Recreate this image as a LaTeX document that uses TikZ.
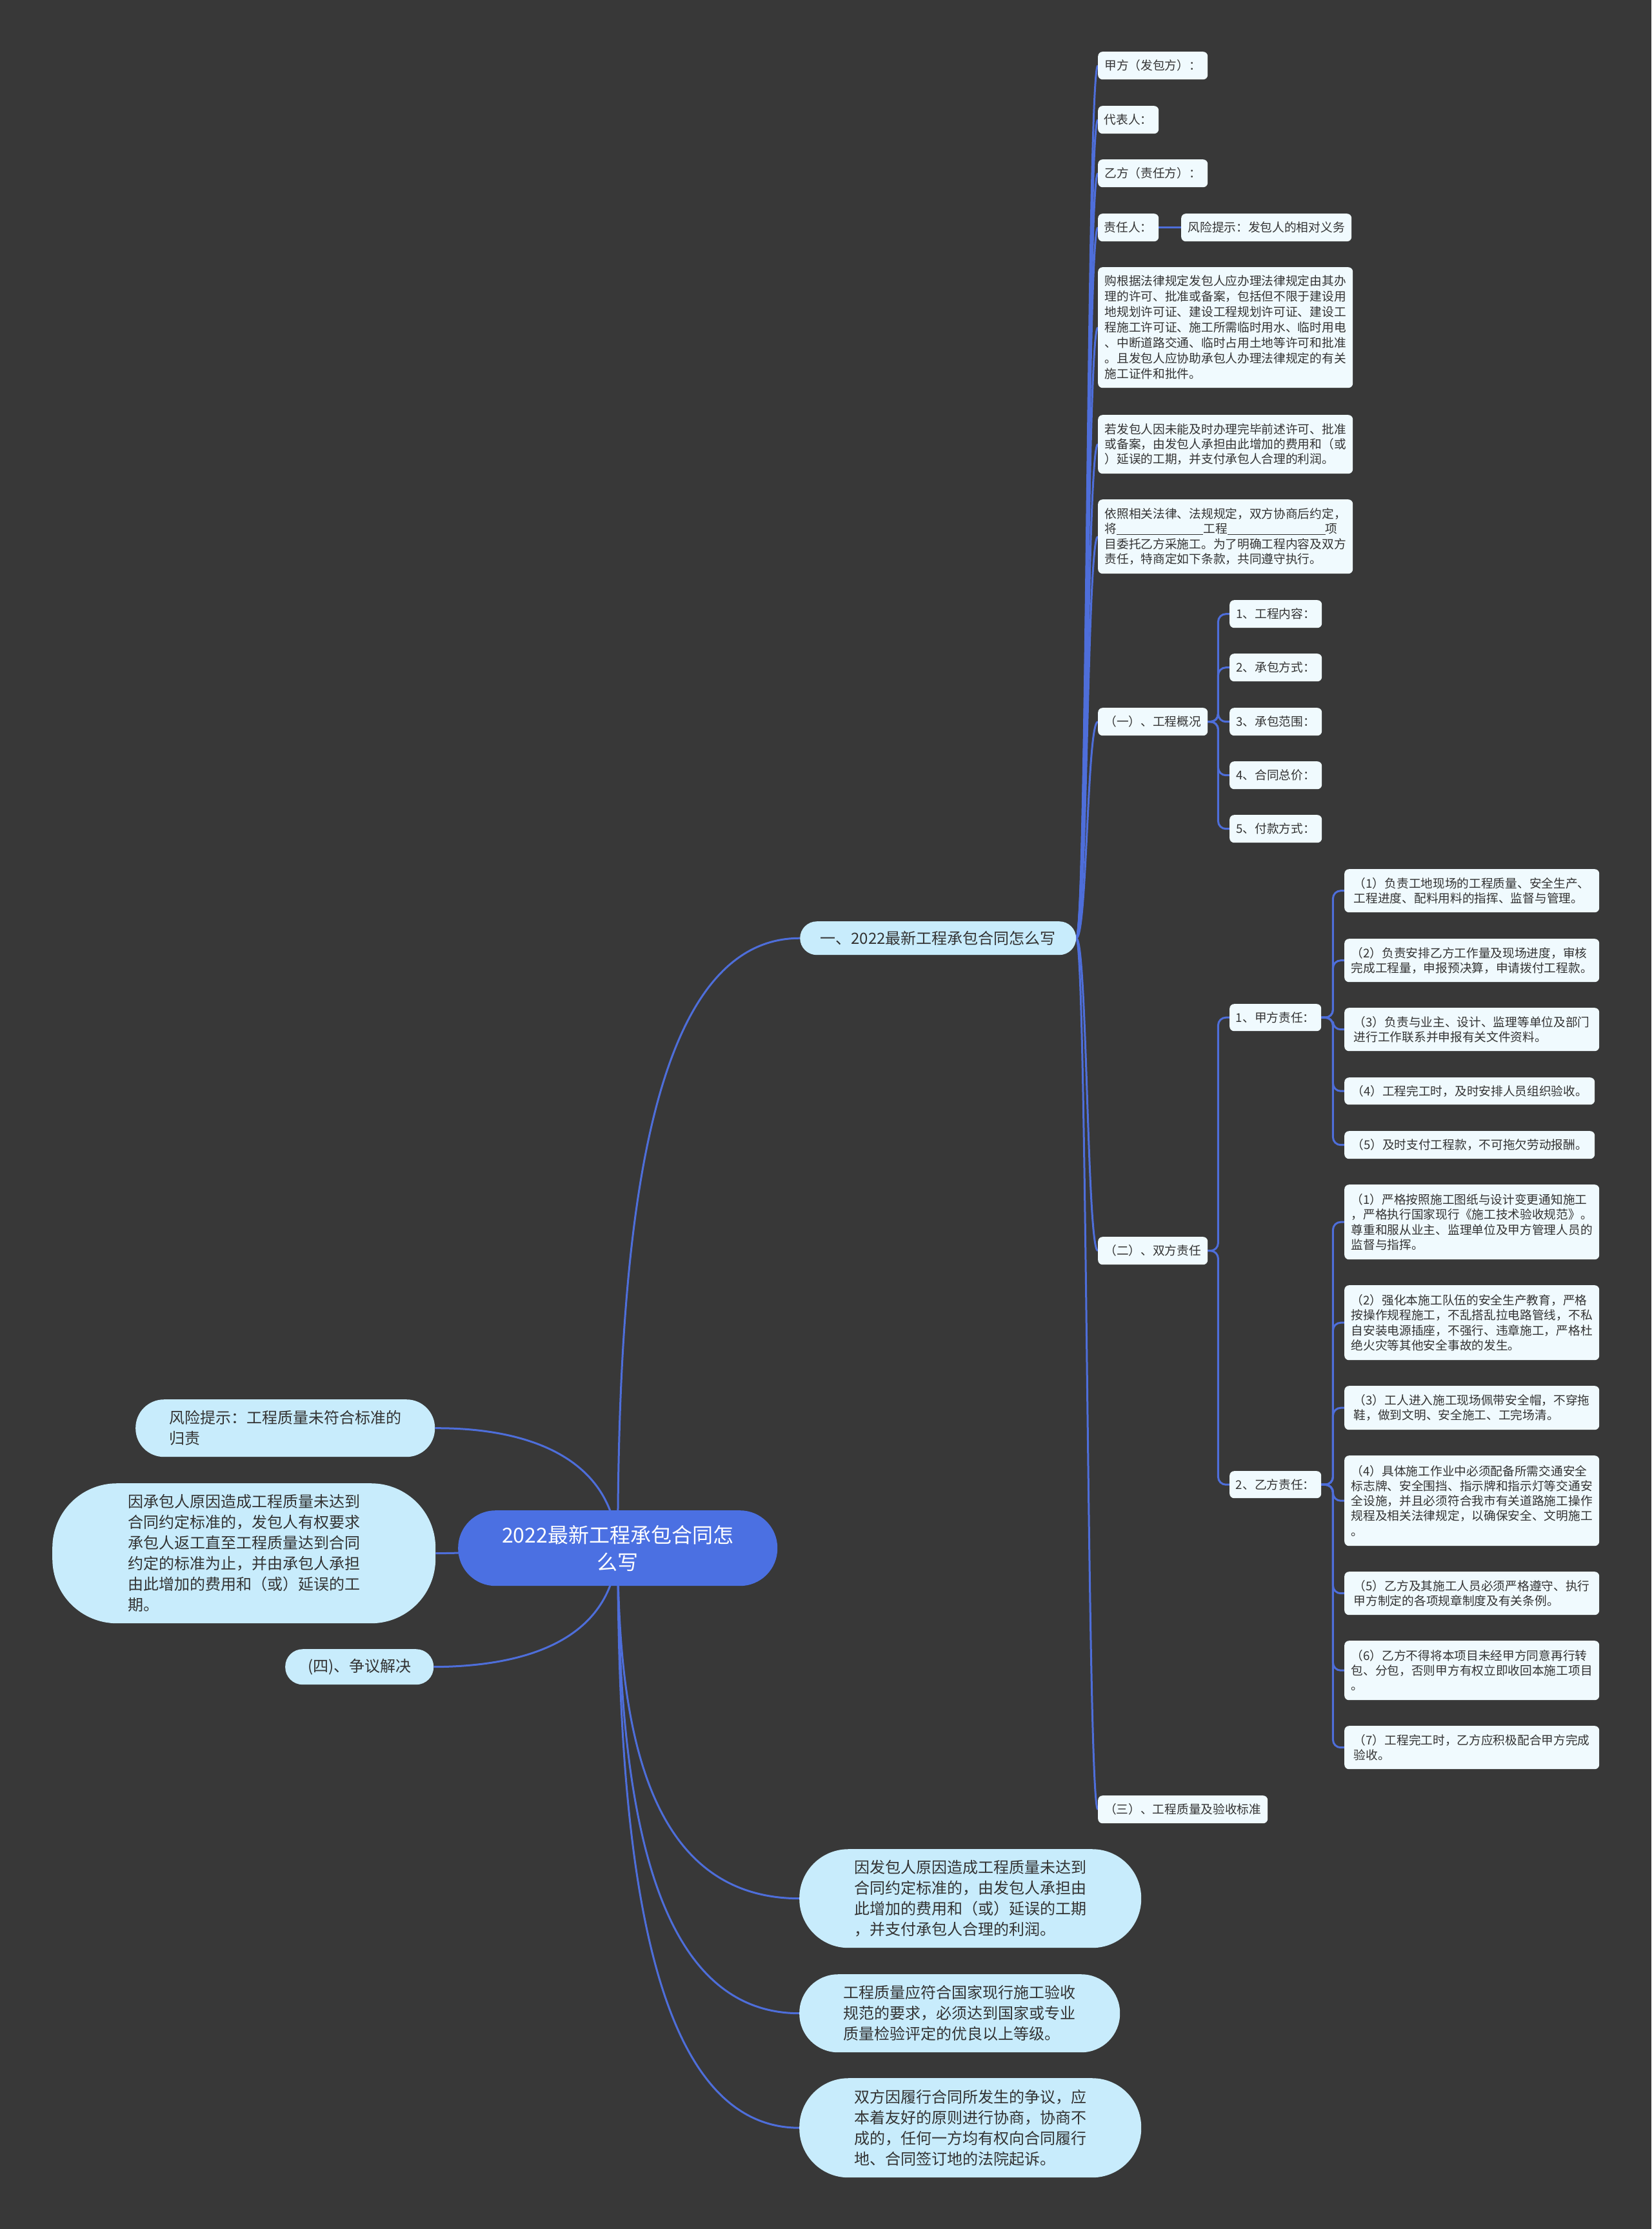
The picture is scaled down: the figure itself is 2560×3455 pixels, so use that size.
\documentclass[tikz,border=0pt]{standalone}
\usepackage{fontspec}
\setmainfont{Noto Sans CJK SC}
\definecolor{bgc}{HTML}{383838}
\definecolor{lnc}{HTML}{4E6EDA}
\definecolor{leafc}{HTML}{F0FAFE}
\definecolor{pillc}{HTML}{C8ECFC}
\definecolor{rootc}{HTML}{4B70E2}
\definecolor{txc}{HTML}{333333}
\pgfdeclarelayer{bglayer}
\pgfdeclarelayer{edgelayer}
\pgfsetlayers{bglayer,edgelayer,main}
\tikzset{
  conn/.style={draw=lnc, line width=3pt},
  elbow/.style={draw=lnc, line width=3pt, rounded corners=12pt},
  leaf/.style={rectangle, rounded corners=7pt, fill=leafc, text=txc, inner sep=0pt,
    align=left, anchor=north west, font=\fontsize{18.7}{23.3}\selectfont},
  pill/.style={rectangle, fill=pillc, text=txc, inner sep=0pt,
    align=left, anchor=north west, font=\fontsize{24}{32}\selectfont},
  rootbox/.style={rectangle, fill=rootc, text=white, inner sep=0pt, rounded corners=58pt,
    align=center, anchor=north west, font=\fontsize{32}{42}\selectfont}
}
\begin{document}
\begin{tikzpicture}[x=1pt,y=-1pt]
\begin{pgfonlayer}{bglayer}
\fill[bgc] (0,0) rectangle (2560,3455);
\end{pgfonlayer}
\useasboundingbox (0,0) rectangle (2560,3455);

% root
\node[rootbox, minimum width=495pt, minimum height=117pt] (root) at (710,2341) {2022最新工程承包合同怎\\么写};

% left pills
\node[pill, rounded corners=44pt, minimum width=464pt, minimum height=89pt] (l1) at (210,2169) {风险提示：工程质量未符合标准的\\归责};
\node[pill, rounded corners=100pt, minimum width=594pt, minimum height=217pt] (l2) at (81,2299) {因承包人原因造成工程质量未达到\\合同约定标准的，发包人有权要求\\承包人返工直至工程质量达到合同\\约定的标准为止，并由承包人承担\\由此增加的费用和（或）延误的工\\期。};
\node[pill, rounded corners=27pt, minimum width=230pt, minimum height=55pt] (l3) at (442,2556) {(四)、争议解决};

% bottom pills
\node[pill, rounded corners=76pt, minimum width=530pt, minimum height=153pt] (b1) at (1239,2866) {因发包人原因造成工程质量未达到\\合同约定标准的，由发包人承担由\\此增加的费用和（或）延误的工期\\，并支付承包人合理的利润。};
\node[pill, rounded corners=60pt, minimum width=497pt, minimum height=121pt] (b2) at (1239,3060) {工程质量应符合国家现行施工验收\\规范的要求，必须达到国家或专业\\质量检验评定的优良以上等级。};
\node[pill, rounded corners=76pt, minimum width=530pt, minimum height=154pt] (b3) at (1239,3221) {双方因履行合同所发生的争议，应\\本着友好的原则进行协商，协商不\\成的，任何一方均有权向合同履行\\地、合同签订地的法院起诉。};

% first branch
\node[pill, rounded corners=26pt, minimum width=428pt, minimum height=52pt] (n1) at (1240,1428) {一、2022最新工程承包合同怎么写};

% right column
\node[leaf, minimum width=170pt, minimum height=43pt] (a1) at (1702,80) {甲方（发包方）：};
\node[leaf, minimum width=94pt, minimum height=43pt] (a2) at (1702,164) {代表人：};
\node[leaf, minimum width=170pt, minimum height=43pt] (a3) at (1702,247) {乙方（责任方）：};
\node[leaf, minimum width=94pt, minimum height=43pt] (a4) at (1702,331) {责任人：};
\node[leaf, minimum width=264pt, minimum height=43pt] (a4r) at (1831,331) {风险提示：发包人的相对义务};
\node[leaf, minimum width=395pt, minimum height=187pt, font=\fontsize{18.7}{24}\selectfont] (a5) at (1702,414) {购根据法律规定发包人应办理法律规定由其办\\理的许可、批准或备案，包括但不限于建设用\\地规划许可证、建设工程规划许可证、建设工\\程施工许可证、施工所需临时用水、临时用电\\、中断道路交通、临时占用土地等许可和批准\\。且发包人应协助承包人办理法律规定的有关\\施工证件和批件。};
\node[leaf, minimum width=395pt, minimum height=91pt] (a6) at (1702,643) {若发包人因未能及时办理完毕前述许可、批准\\或备案，由发包人承担由此增加的费用和（或\\）延误的工期，并支付承包人合理的利润。};
\node[leaf, minimum width=395pt, minimum height=115pt] (a7) at (1702,774) {依照相关法律、法规规定，双方协商后约定，\\将\rule[-2pt]{134pt}{1pt}工程\rule[-2pt]{152pt}{1pt}项\\目委托乙方采施工。为了明确工程内容及双方\\责任，特商定如下条款，共同遵守执行。};

\node[leaf, minimum width=170pt, minimum height=43pt] (g) at (1702,1097) {（一）、工程概况};
\node[leaf, minimum width=143pt, minimum height=43pt] (g1) at (1906,930) {1、工程内容：};
\node[leaf, minimum width=143pt, minimum height=43pt] (g2) at (1906,1013) {2、承包方式：};
\node[leaf, minimum width=143pt, minimum height=43pt] (g3) at (1906,1097) {3、承包范围：};
\node[leaf, minimum width=143pt, minimum height=43pt] (g4) at (1906,1180) {4、合同总价：};
\node[leaf, minimum width=143pt, minimum height=43pt] (g5) at (1906,1263) {5、付款方式：};

\node[leaf, minimum width=170pt, minimum height=43pt] (d) at (1702,1917) {（二）、双方责任};
\node[leaf, minimum width=142pt, minimum height=42pt] (j) at (1906,1556) {1、甲方责任：};
\node[leaf, minimum width=142pt, minimum height=42pt] (y) at (1906,2280) {2、乙方责任：};

\node[leaf, minimum width=395pt, minimum height=67pt] (j1) at (2084,1347) {（1）负责工地现场的工程质量、安全生产、\\工程进度、配料用料的指挥、监督与管理。};
\node[leaf, minimum width=395pt, minimum height=67pt] (j2) at (2084,1455) {（2）负责安排乙方工作量及现场进度，审核\\完成工程量，申报预决算，申请拨付工程款。};
\node[leaf, minimum width=395pt, minimum height=67pt] (j3) at (2084,1562) {（3）负责与业主、设计、监理等单位及部门\\进行工作联系并申报有关文件资料。};
\node[leaf, minimum width=388pt, minimum height=42pt] (j4) at (2084,1670) {（4）工程完工时，及时安排人员组织验收。};
\node[leaf, minimum width=388pt, minimum height=43pt] (j5) at (2084,1753) {（5）及时支付工程款，不可拖欠劳动报酬。};

\node[leaf, minimum width=395pt, minimum height=116pt] (y1) at (2084,1836) {（1）严格按照施工图纸与设计变更通知施工\\，严格执行国家现行《施工技术验收规范》。\\尊重和服从业主、监理单位及甲方管理人员的\\监督与指挥。};
\node[leaf, minimum width=395pt, minimum height=116pt] (y2) at (2084,1992) {（2）强化本施工队伍的安全生产教育，严格\\按操作规程施工，不乱搭乱拉电路管线，不私\\自安装电源插座，不强行、违章施工，严格杜\\绝火灾等其他安全事故的发生。};
\node[leaf, minimum width=395pt, minimum height=68pt] (y3) at (2084,2148) {（3）工人进入施工现场佩带安全帽，不穿拖\\鞋，做到文明、安全施工、工完场清。};
\node[leaf, minimum width=395pt, minimum height=140pt] (y4) at (2084,2256) {（4）具体施工作业中必须配备所需交通安全\\标志牌、安全围挡、指示牌和指示灯等交通安\\全设施，并且必须符合我市有关道路施工操作\\规程及相关法律规定，以确保安全、文明施工\\。};
\node[leaf, minimum width=395pt, minimum height=67pt] (y5) at (2084,2436) {（5）乙方及其施工人员必须严格遵守、执行\\甲方制定的各项规章制度及有关条例。};
\node[leaf, minimum width=395pt, minimum height=92pt] (y6) at (2084,2543) {（6）乙方不得将本项目未经甲方同意再行转\\包、分包，否则甲方有权立即收回本施工项目\\。};
\node[leaf, minimum width=395pt, minimum height=67pt] (y7) at (2084,2675) {（7）工程完工时，乙方应积极配合甲方完成\\验收。};

\node[leaf, minimum width=263pt, minimum height=43pt] (s) at (1702,2783) {（三）、工程质量及验收标准};

% connectors
\begin{pgfonlayer}{edgelayer}
\draw[conn] (root.center) .. controls (958,1927) and (1000,1454) .. (n1.west);
\draw[conn] (root.center) .. controls (958,2671) and (1000,2942) .. (b1.west);
\draw[conn] (root.center) .. controls (958,2760) and (1000,3120) .. (b2.west);
\draw[conn] (root.center) .. controls (958,2849) and (1000,3298) .. (b3.west);
\draw[conn] (root.center) .. controls (950,2260) and (820,2213) .. (l1.east);
\draw[conn] (root.center) .. controls (900,2400) and (750,2407) .. (l2.east);
\draw[conn] (root.center) .. controls (950,2540) and (820,2583) .. (l3.east);
\foreach \t in {a1,a2,a3,a4,a5,a6,a7,g,d,s}
  \draw[conn] (n1.east) .. controls +(17,0) and +(-17,0) .. (\t.west);
\draw[conn] (a4.east) -- (a4r.west);
\foreach \t in {g1,g2,g3,g4,g5}
  \draw[elbow] (g.east) -- ++(16,0) |- (\t.west);
\foreach \t in {j,y}
  \draw[elbow] (d.east) -- ++(16,0) |- (\t.west);
\foreach \t in {j1,j2,j3,j4,j5}
  \draw[elbow] (j.east) -- ++(18,0) |- (\t.west);
\foreach \t in {y1,y2,y3,y4,y5,y6,y7}
  \draw[elbow] (y.east) -- ++(18,0) |- (\t.west);
\end{pgfonlayer}
\end{tikzpicture}
\end{document}
